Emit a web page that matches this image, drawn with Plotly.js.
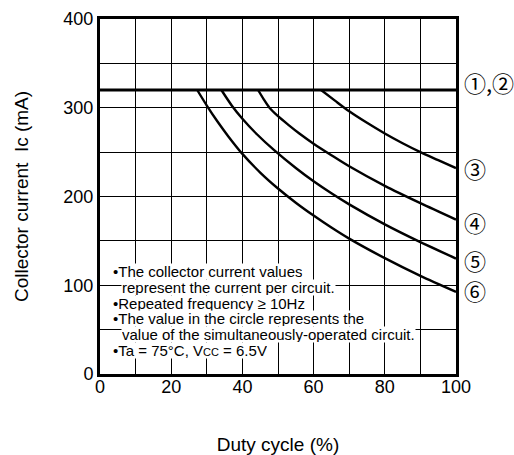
<!DOCTYPE html>
<html>
<head>
<meta charset="utf-8">
<script src="https://cdn.plot.ly/plotly-3.0.1.min.js"></script>
<style>html,body{margin:0;padding:0;background:#fff;}#chart{width:514px;height:455px;}</style>
</head>
<body>
<div id="chart"></div>
<script>
// Limit line for circuits 1 and 2
var line12X = [0, 100];
var line12Y = [320, 320];
// Curve 3
var c3X = [62.1, 66, 70, 75, 80, 85, 90, 95, 100];
var c3Y = [320, 308, 296, 283, 271, 260, 250, 241, 232];
// Curve 4
var c4X = [44.4, 46, 47.6, 50, 53, 56, 60, 65, 70, 80, 90, 100];
var c4Y = [320, 309.5, 300, 290.5, 280.5, 271, 259.5, 246.5, 234, 212, 192.5, 174];
// Curve 5
var c5X = [34.1, 37, 40, 44, 49, 55, 60, 65, 70, 80, 90, 100];
var c5Y = [320, 302.6, 287.6, 270.4, 251.9, 232.1, 217.1, 203.6, 191.1, 168.6, 148.6, 130.1];
// Curve 6
var c6X = [27.3, 30, 33, 36, 40, 45, 50, 55, 60, 65, 70, 80, 90, 100];
var c6Y = [320, 302.5, 284.5, 268, 248, 227, 209, 193, 178.5, 165, 152.5, 130.5, 110.5, 92.5];

var curveLabels = ["\u2460,\u2461", "\u2462", "\u2463", "\u2464", "\u2465"];
var xTickVals = [0, 20, 40, 60, 80, 100];
var yTickVals = [0, 100, 200, 300, 400];
var noteLines = [
  "\u2022The collector current values",
  "represent the current per circuit.",
  "\u2022Repeated frequency \u2265 10Hz",
  "\u2022The value in the circle represents the",
  "value of the simultaneously-operated circuit.",
  "\u2022Ta = 75\u00B0C, V<span style=\"font-size:11px\">CC</span> = 6.5V"
];

var FONT = "Liberation Sans, Arial, Helvetica, sans-serif";
function lineTrace(x, y, w) {
  return {x: x, y: y, type: "scatter", mode: "lines",
          line: {color: "#000", width: w, shape: "spline", smoothing: 0.8},
          hoverinfo: "skip", showlegend: false, cliponaxis: true};
}
var traces = [
  lineTrace(line12X, line12Y, 2.8),
  lineTrace(c3X, c3Y, 2.4),
  lineTrace(c4X, c4Y, 2.4),
  lineTrace(c5X, c5Y, 2.4),
  lineTrace(c6X, c6Y, 2.4)
];

var annotations = [];
// curve labels on right
var labelY = [329, 232, 171, 128.5, 95];
for (var i = 0; i < curveLabels.length; i++) {
  annotations.push({x: 1.018, y: labelY[i], xref: "paper", yref: "y", text: curveLabels[i],
    showarrow: false, xanchor: "left", yanchor: "middle",
    font: {family: "Noto Sans CJK JP, DejaVu Sans, sans-serif", size: 22, color: "#000"}});
}
// note lines
var noteX = [3.4, 5.9, 3.4, 3.4, 5.9, 3.4];
var noteY = [116, 98, 80, 62, 44, 26];
for (var j = 0; j < noteLines.length; j++) {
  annotations.push({x: noteX[j], y: noteY[j], xref: "x", yref: "y", text: noteLines[j],
    showarrow: false, xanchor: "left", yanchor: "middle", bgcolor: "#fff", borderpad: 0,
    height: 15,
    font: {family: FONT, size: 15, color: "#000"}});
}

var layout = {
  width: 514, height: 455,
  margin: {l: 100, r: 58, t: 19, b: 81},
  paper_bgcolor: "#fff", plot_bgcolor: "#fff",
  showlegend: false,
  font: {family: FONT, color: "#000"},
  xaxis: {
    range: [0, 100], tickvals: xTickVals, ticktext: xTickVals.map(String),
    showgrid: true, gridcolor: "#000", gridwidth: 1,
    minor: {dtick: 10, showgrid: true, gridcolor: "#000", gridwidth: 1},
    showline: true, linecolor: "#000", linewidth: 3, mirror: true,
    ticks: "", zeroline: false, ticklabelstandoff: -6,
    tickfont: {family: FONT, size: 18, color: "#000"},
    title: {text: "Duty cycle (%)", font: {family: FONT, size: 19, color: "#000"}, standoff: 46}
  },
  yaxis: {
    range: [0, 400], tickvals: yTickVals, ticktext: yTickVals.map(String),
    showgrid: true, gridcolor: "#000", gridwidth: 1,
    minor: {dtick: 50, showgrid: true, gridcolor: "#000", gridwidth: 1},
    showline: true, linecolor: "#000", linewidth: 3, mirror: true,
    ticks: "", zeroline: false,
    tickfont: {family: FONT, size: 18, color: "#000"},
    title: {text: "Collector current  Ic (mA)", font: {family: FONT, size: 19, color: "#000"}, standoff: 30}
  },
  annotations: annotations
};
Plotly.newPlot("chart", traces, layout, {displayModeBar: false, staticPlot: true});
</script>
</body>
</html>
